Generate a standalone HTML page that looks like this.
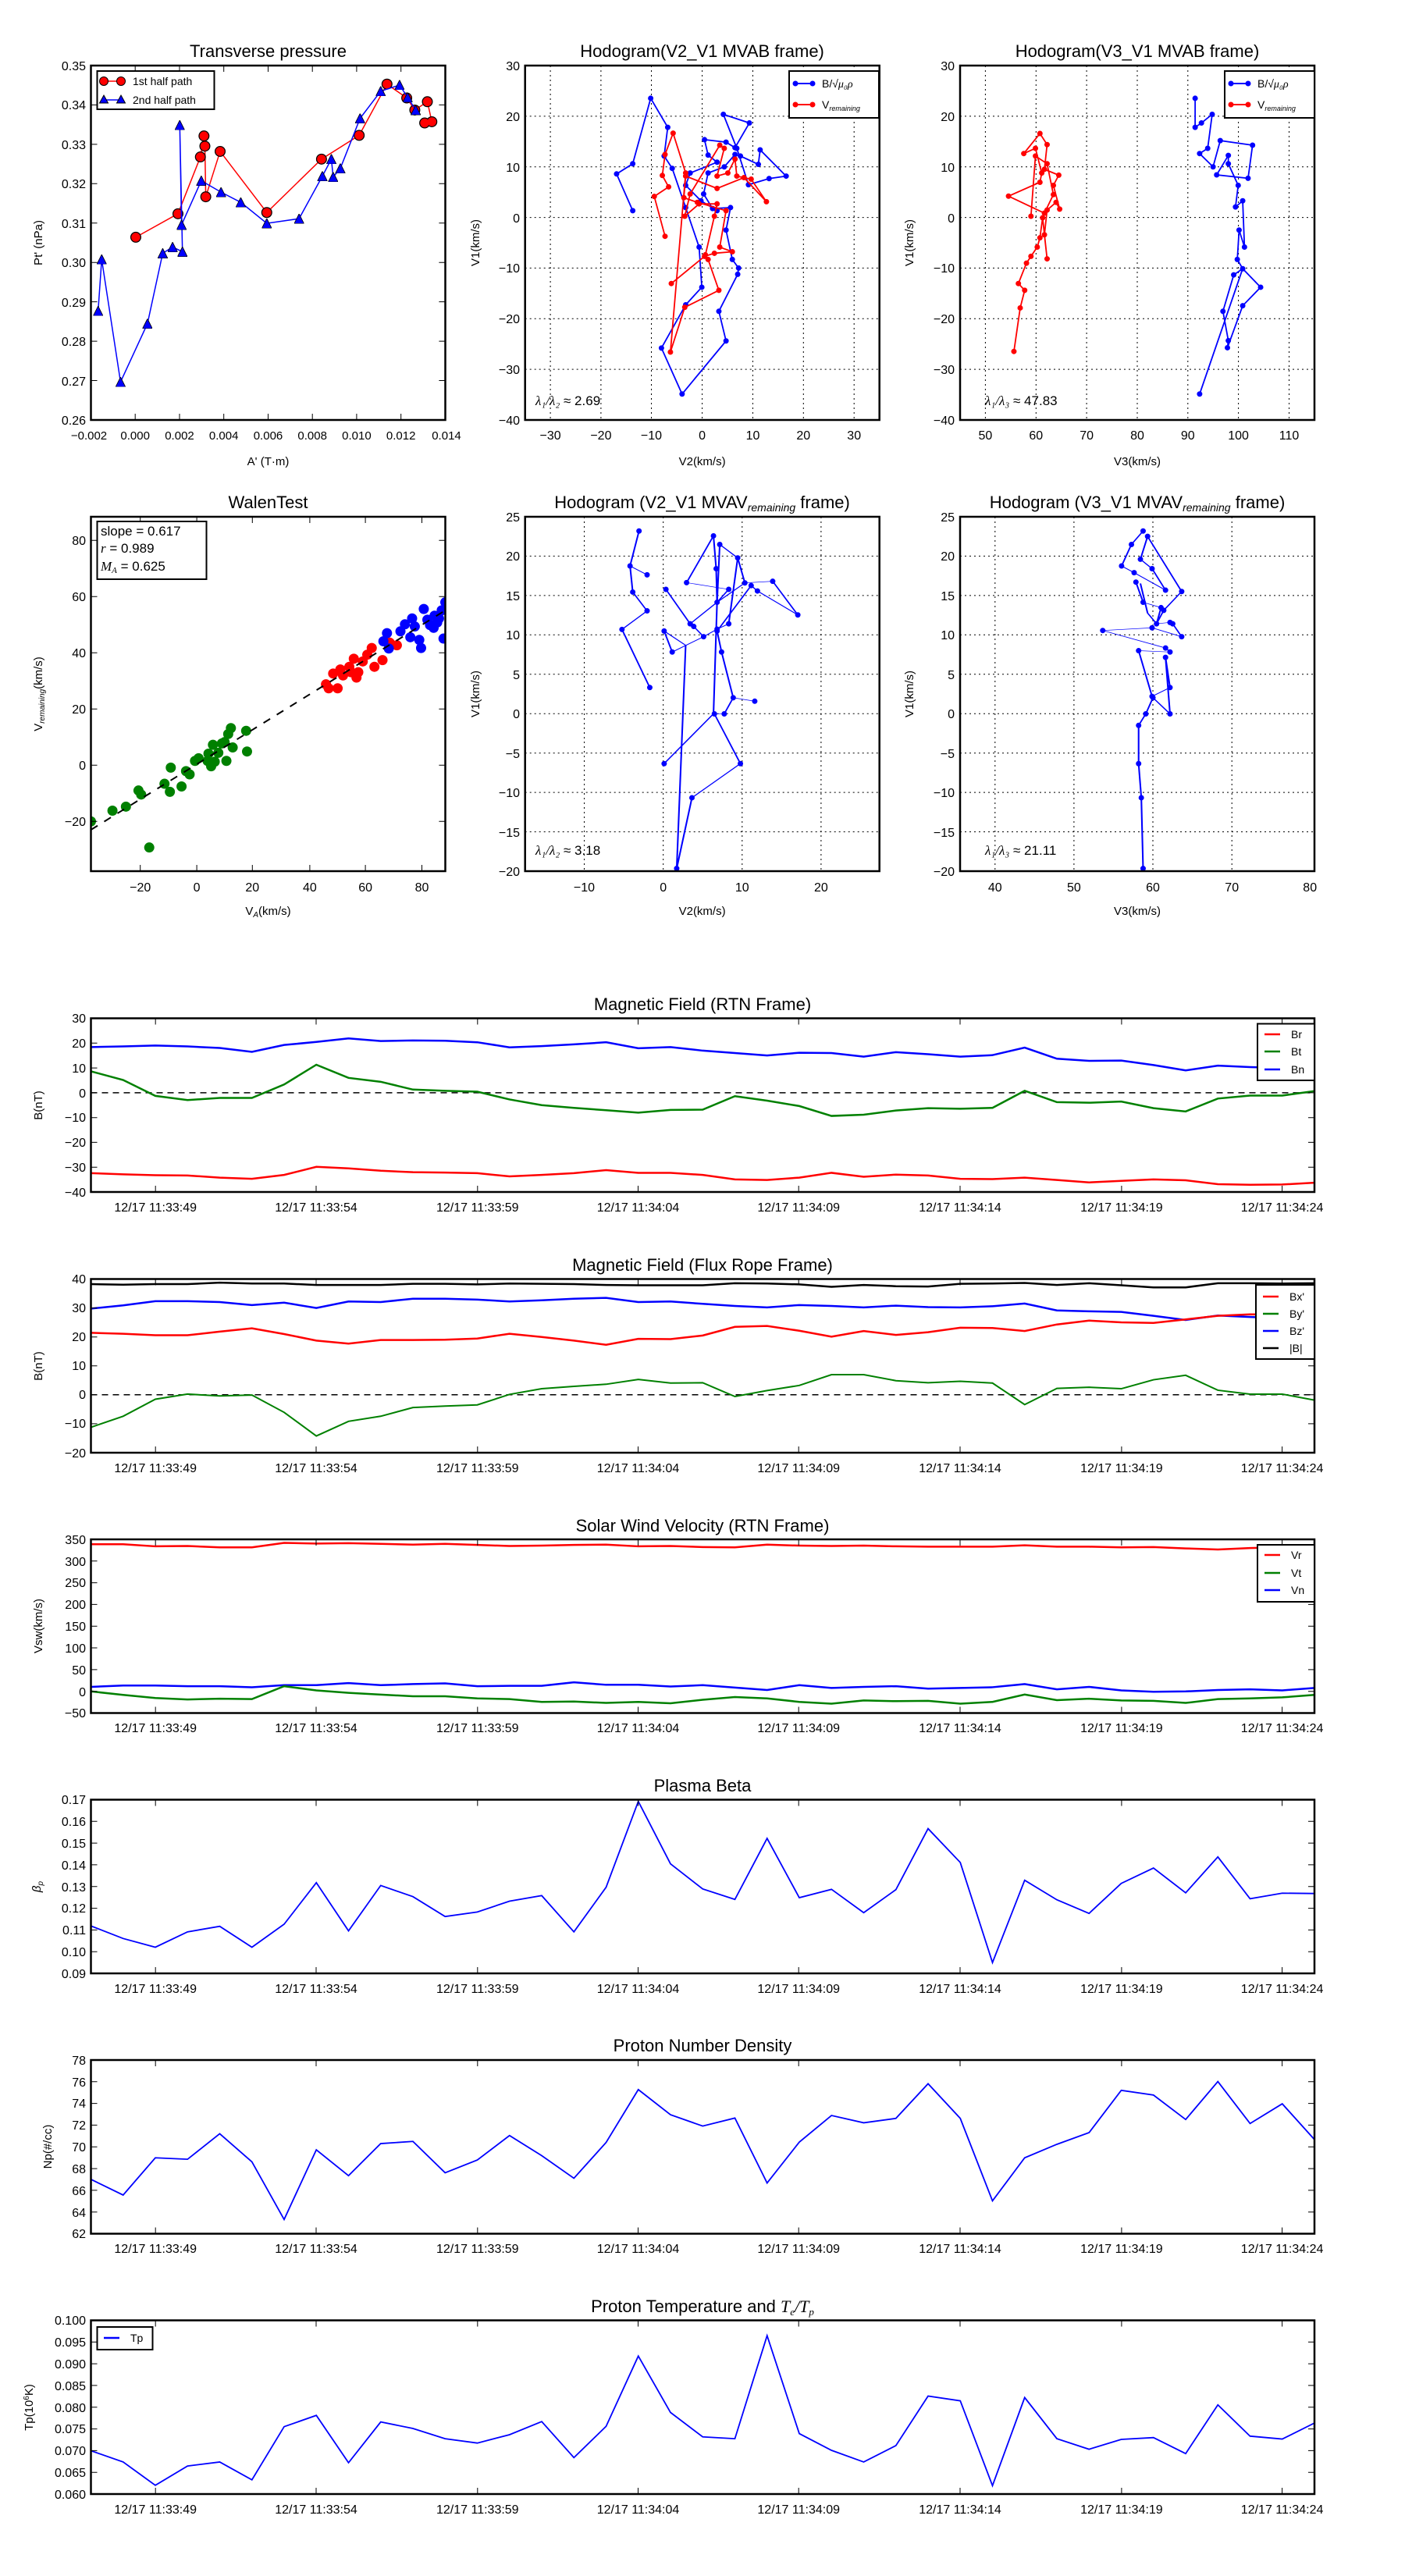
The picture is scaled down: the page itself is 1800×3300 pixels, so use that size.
<!DOCTYPE html>
<html><head><meta charset="utf-8"><style>
html,body{margin:0;padding:0;background:#fff}
svg{display:block}
text{font-family:"Liberation Sans",sans-serif;fill:#000}
.t{font-size:16px}
.ti{font-size:22px;text-anchor:middle}
.al{font-size:15px;text-anchor:middle}
.lg{font-size:14px}
.d{vector-effect:non-scaling-stroke;fill:none}
.sp{fill:none;stroke:#000;stroke-width:2.5}
.tk{fill:none;stroke:#000;stroke-width:1}
.gr{fill:none;stroke:#000;stroke-width:1;stroke-dasharray:2,4}
</style></head><body>
<svg width="1800" height="3300" viewBox="0 0 1800 3300" xmlns="http://www.w3.org/2000/svg">
<defs>
<marker id="tri" markerUnits="userSpaceOnUse" markerWidth="11" markerHeight="32" viewBox="0 0 12 12" refX="6" refY="6" preserveAspectRatio="none"><path d="M6 0L12 12H0Z" fill="#00f" stroke="#000" stroke-width="0.8"/></marker>
</defs>

<!-- ================= ROW 1 ================= -->
<!-- Panel 1: Transverse pressure -->
<text class="ti" x="343.5" y="73">Transverse pressure</text>
<svg x="116.5" y="84" width="454" height="454" viewBox="102 212 395 1148" preserveAspectRatio="none">
<polyline class="d" stroke="#f00" stroke-width="1.5" points="152,768 199,692 224,508 228,440 229,473 230,637 246,490 298,688 359,515 401,438 432,272 454,317 463,356 477,329 482,394 474,398"/>
<path class="d" stroke="#000" stroke-width="14" stroke-linecap="round" d="M152 768h0M199 692h0M224 508h0M228 440h0M229 473h0M230 637h0M246 490h0M298 688h0M359 515h0M401 438h0M432 272h0M454 317h0M463 356h0M477 329h0M482 394h0M474 398h0"/>
<path class="d" stroke="#f00" stroke-width="11.5" stroke-linecap="round" d="M152 768h0M199 692h0M224 508h0M228 440h0M229 473h0M230 637h0M246 490h0M298 688h0M359 515h0M401 438h0M432 272h0M454 317h0M463 356h0M477 329h0M482 394h0M474 398h0"/>
<polyline class="d" stroke="#00f" stroke-width="1.5" marker-start="url(#tri)" marker-mid="url(#tri)" marker-end="url(#tri)" points="110,1007 114,840 135,1237 165,1048 182,820 193,800 204,815 201,405 203,728 225,585 247,622 269,655 298,723 334,708 360,570 370,515 372,573 380,545 402,383 425,295 446,275 455,315 464,356"/>
</svg>
<rect class="sp" x="116.5" y="84" width="454" height="454"/>
<path class="tk" d="M173.2 538v-8M230 538v-8M286.7 538v-8M343.5 538v-8M400.2 538v-8M456.9 538v-8M513.7 538v-8M173.2 84v8M230 84v8M286.7 84v8M343.5 84v8M400.2 84v8M456.9 84v8M513.7 84v8M116.5 134.4h8M116.5 184.9h8M116.5 235.3h8M116.5 285.8h8M116.5 336.2h8M116.5 386.6h8M116.5 437.1h8M116.5 487.5h8M570.4 134.4h-8M570.4 184.9h-8M570.4 235.3h-8M570.4 285.8h-8M570.4 336.2h-8M570.4 386.6h-8M570.4 437.1h-8M570.4 487.5h-8"/>
<g class="t" text-anchor="end">
<text x="110" y="90">0.35</text><text x="110" y="140">0.34</text><text x="110" y="191">0.33</text><text x="110" y="241">0.32</text><text x="110" y="292">0.31</text><text x="110" y="342">0.30</text><text x="110" y="393">0.29</text><text x="110" y="443">0.28</text><text x="110" y="494">0.27</text><text x="110" y="544">0.26</text>
</g>
<g class="t" text-anchor="middle" style="font-size:15px">
<text x="114" y="563">−0.002</text><text x="173.2" y="563">0.000</text><text x="230" y="563">0.002</text><text x="286.7" y="563">0.004</text><text x="343.5" y="563">0.006</text><text x="400.2" y="563">0.008</text><text x="456.9" y="563">0.010</text><text x="513.7" y="563">0.012</text><text x="572" y="563">0.014</text>
</g>
<text class="al" x="343.5" y="596">A' (T·m)</text>
<text class="al" transform="translate(54 311) rotate(-90)">Pt' (nPa)</text>
<rect x="124.5" y="91" width="150" height="49" fill="#fff" stroke="#000" stroke-width="2"/>
<line x1="130" y1="104" x2="158" y2="104" stroke="#f00" stroke-width="1.5"/>
<circle cx="133" cy="104" r="5.5" fill="#f00" stroke="#000"/><circle cx="155" cy="104" r="5.5" fill="#f00" stroke="#000"/>
<line x1="130" y1="128" x2="158" y2="128" stroke="#00f" stroke-width="1.5"/>
<path d="M133 122l5.5 10h-11zM155 122l5.5 10h-11z" fill="#00f" stroke="#000"/>
<text class="lg" x="170" y="109">1st half path</text><text class="lg" x="170" y="133">2nd half path</text>

<!-- Panel 2: Hodogram V2_V1 MVAB -->
<text class="ti" x="899.6" y="73">Hodogram(V2_V1 MVAB frame)</text>
<path class="gr" d="M705.1 84V538M769.9 84V538M834.5 84V538M899.6 84V538M964.5 84V538M1029.3 84V538M1094.2 84V538M672.7 148.9H1126.6M672.7 213.7H1126.6M672.7 278.6H1126.6M672.7 343.4H1126.6M672.7 408.3H1126.6M672.7 473.1H1126.6"/>
<svg x="672.7" y="84" width="454" height="454" viewBox="586 212 395 1148" preserveAspectRatio="none">
<polyline class="d" stroke="#00f" stroke-width="1.8" points="706,682 688,563 706,530 726,318 745,412 741,505 750,545 765,672 780,800 783,930 765,987 738,1127 761,1276 810,1104 802,1008 823,888 824,868 817,840 810,745 815,672 795,675 785,628 790,560 808,540 820,500 826,505 846,532 848,485 877,570 858,578 835,598 822,480 807,370 836,398 820,478 810,460 786,452 790,502 800,525 770,560 765,600 782,650 800,682"/>
<path class="d" stroke="#00f" stroke-width="7" stroke-linecap="round" d="M706 682h0M688 563h0M706 530h0M726 318h0M745 412h0M741 505h0M750 545h0M765 672h0M780 800h0M783 930h0M765 987h0M738 1127h0M761 1276h0M810 1104h0M802 1008h0M823 888h0M824 868h0M817 840h0M810 745h0M815 672h0M795 675h0M785 628h0M790 560h0M808 540h0M820 500h0M826 505h0M846 532h0M848 485h0M877 570h0M858 578h0M835 598h0M822 480h0M807 370h0M836 398h0M820 478h0M810 460h0M786 452h0M790 502h0M800 525h0M770 560h0M765 600h0M782 650h0M800 682h0"/>
<polyline class="d" stroke="#f00" stroke-width="1.8" points="742,765 730,636 746,605 739,568 742,500 751,431 765,560 748,1140 764,995 802,940 790,840 787,825 797,700 800,660 780,660 764,700 770,628 803,470 808,480 800,570 812,560 820,515 822,570 838,580 855,653 830,575 800,610 765,570 763,640 778,655 810,682 803,800 817,815 797,820 786,830 749,918"/>
<path class="d" stroke="#f00" stroke-width="7" stroke-linecap="round" d="M742 765h0M730 636h0M746 605h0M739 568h0M742 500h0M751 431h0M765 560h0M748 1140h0M764 995h0M802 940h0M790 840h0M787 825h0M797 700h0M800 660h0M780 660h0M764 700h0M770 628h0M803 470h0M808 480h0M800 570h0M812 560h0M820 515h0M822 570h0M838 580h0M855 653h0M830 575h0M800 610h0M765 570h0M763 640h0M778 655h0M810 682h0M803 800h0M817 815h0M797 820h0M786 830h0M749 918h0"/>
</svg>
<rect class="sp" x="672.7" y="84" width="454" height="454"/>
<g class="t" text-anchor="end">
<text x="666" y="90">30</text><text x="666" y="155">20</text><text x="666" y="220">10</text><text x="666" y="285">0</text><text x="666" y="349">−10</text><text x="666" y="414">−20</text><text x="666" y="479">−30</text><text x="666" y="544">−40</text>
</g>
<g class="t" text-anchor="middle">
<text x="705.1" y="563">−30</text><text x="769.9" y="563">−20</text><text x="834.5" y="563">−10</text><text x="899.6" y="563">0</text><text x="964.5" y="563">10</text><text x="1029.3" y="563">20</text><text x="1094.2" y="563">30</text>
</g>
<text class="al" x="899.6" y="596">V2(km/s)</text>
<text class="al" transform="translate(614 311) rotate(-90)">V1(km/s)</text>
<text x="686" y="519" style="font-size:17px"><tspan font-style="italic" font-family="Liberation Serif">λ₁/λ₂</tspan> ≈ 2.69</text>
<rect x="1011" y="91" width="115" height="60" fill="#fff" stroke="#000" stroke-width="2"/>
<line x1="1017" y1="107" x2="1043" y2="107" stroke="#00f" stroke-width="2"/><circle cx="1019" cy="107" r="3.5" fill="#00f"/><circle cx="1041" cy="107" r="3.5" fill="#00f"/>
<line x1="1017" y1="134" x2="1043" y2="134" stroke="#f00" stroke-width="2"/><circle cx="1019" cy="134" r="3.5" fill="#f00"/><circle cx="1041" cy="134" r="3.5" fill="#f00"/>
<text class="lg" x="1053" y="112">B/√<tspan font-style="italic" font-family="Liberation Serif">μ₀ρ</tspan></text>
<text class="lg" x="1053" y="139">V<tspan font-size="9" font-style="italic" dy="3">remaining</tspan></text>

<!-- Panel 3: Hodogram V3_V1 MVAB -->
<text class="ti" x="1457" y="73">Hodogram(V3_V1 MVAB frame)</text>
<path class="gr" d="M1262.4 84V538M1327.3 84V538M1392.1 84V538M1457 84V538M1521.8 84V538M1586.6 84V538M1651.5 84V538M1230 148.9H1684M1230 213.7H1684M1230 278.6H1684M1230 343.4H1684M1230 408.3H1684M1230 473.1H1684"/>
<svg x="1230" y="84" width="454" height="454" viewBox="1071 212 395 1148" preserveAspectRatio="none">
<polyline class="d" stroke="#00f" stroke-width="1.8" points="1333,318 1333,412 1340,398 1352,370 1347,480 1338,497 1353,540 1361,455 1397,470 1392,577 1357,566 1370,503 1370,530 1381,600 1378,670 1386,650 1388,800 1382,745 1380,840 1386,870 1376,890 1364,1008 1370,1103 1369,1126 1386,990 1406,930 1386,870 1338,1276"/>
<path class="d" stroke="#00f" stroke-width="7" stroke-linecap="round" d="M1333 318h0M1333 412h0M1340 398h0M1352 370h0M1347 480h0M1338 497h0M1353 540h0M1361 455h0M1397 470h0M1392 577h0M1357 566h0M1370 503h0M1370 530h0M1381 600h0M1378 670h0M1386 650h0M1388 800h0M1382 745h0M1380 840h0M1386 870h0M1376 890h0M1364 1008h0M1370 1103h0M1369 1126h0M1386 990h0M1406 930h0M1338 1276h0"/>
<polyline class="d" stroke="#f00" stroke-width="1.8" points="1131,1138 1138,997 1143,940 1136,918 1145,852 1150,830 1157,800 1160,770 1163,705 1168,838 1165,760 1168,680 1178,655 1182,677 1175,600 1181,567 1165,548 1168,468 1160,432 1142,497 1155,480 1162,560 1160,590 1125,635 1165,690 1175,630 1168,530 1155,505 1150,700"/>
<path class="d" stroke="#f00" stroke-width="7" stroke-linecap="round" d="M1131 1138h0M1138 997h0M1143 940h0M1136 918h0M1145 852h0M1150 830h0M1157 800h0M1160 770h0M1163 705h0M1168 838h0M1165 760h0M1168 680h0M1178 655h0M1182 677h0M1175 600h0M1181 567h0M1165 548h0M1168 468h0M1160 432h0M1142 497h0M1155 480h0M1162 560h0M1160 590h0M1125 635h0M1165 690h0M1175 630h0M1168 530h0M1155 505h0M1150 700h0"/>
</svg>
<rect class="sp" x="1230" y="84" width="454" height="454"/>
<g class="t" text-anchor="end">
<text x="1223" y="90">30</text><text x="1223" y="155">20</text><text x="1223" y="220">10</text><text x="1223" y="285">0</text><text x="1223" y="349">−10</text><text x="1223" y="414">−20</text><text x="1223" y="479">−30</text><text x="1223" y="544">−40</text>
</g>
<g class="t" text-anchor="middle">
<text x="1262.4" y="563">50</text><text x="1327.3" y="563">60</text><text x="1392.1" y="563">70</text><text x="1457" y="563">80</text><text x="1521.8" y="563">90</text><text x="1586.6" y="563">100</text><text x="1651.5" y="563">110</text>
</g>
<text class="al" x="1457" y="596">V3(km/s)</text>
<text class="al" transform="translate(1170 311) rotate(-90)">V1(km/s)</text>
<text x="1262" y="519" style="font-size:17px"><tspan font-style="italic" font-family="Liberation Serif">λ₁/λ₃</tspan> ≈ 47.83</text>
<rect x="1569" y="91" width="115" height="60" fill="#fff" stroke="#000" stroke-width="2"/>
<line x1="1575" y1="107" x2="1601" y2="107" stroke="#00f" stroke-width="2"/><circle cx="1577" cy="107" r="3.5" fill="#00f"/><circle cx="1599" cy="107" r="3.5" fill="#00f"/>
<line x1="1575" y1="134" x2="1601" y2="134" stroke="#f00" stroke-width="2"/><circle cx="1577" cy="134" r="3.5" fill="#f00"/><circle cx="1599" cy="134" r="3.5" fill="#f00"/>
<text class="lg" x="1611" y="112">B/√<tspan font-style="italic" font-family="Liberation Serif">μ₀ρ</tspan></text>
<text class="lg" x="1611" y="139">V<tspan font-size="9" font-style="italic" dy="3">remaining</tspan></text>

<!-- ================= ROW 2 ================= -->
<!-- Walen -->
<text class="ti" x="343.5" y="651">WalenTest</text>
<svg x="116.5" y="662" width="454" height="454" viewBox="102 122 395 1318" preserveAspectRatio="none">
<path class="d" stroke="#008000" stroke-width="13" stroke-linecap="round" d="M102 1255h0M126 1215h0M141 1200h0M155 1140h0M158 1155h0M167 1352h0M184 1115h0M190 1145h0M191 1055h0M203 1125h0M208 1068h0M212 1080h0M218 1030h0M222 1020h0M232 1030h0M233 1003h0M238 970h0M240 1033h0M244 1000h0M248 965h0M251 960h0M253 1030h0M255 930h0M258 908h0M260 980h0M275 918h0M276 995h0M236 1050h0"/>
<path class="d" stroke="#f00" stroke-width="13" stroke-linecap="round" d="M364 745h0M367 760h0M377 760h0M372 705h0M380 690h0M383 712h0M390 680h0M395 650h0M398 720h0M405 660h0M410 635h0M415 610h0M418 680h0M427 655h0M435 590h0M443 600h0M392 700h0M400 700h0"/>
<path class="d" stroke="#00f" stroke-width="13" stroke-linecap="round" d="M428 585h0M432 555h0M434 612h0M447 548h0M452 522h0M458 570h0M463 530h0M468 580h0M470 610h0M473 465h0M477 505h0M480 525h0M484 535h0M488 515h0M490 500h0M493 470h0M495 575h0M497 440h0M460 500h0M485 490h0"/>
</svg>
<line x1="116.5" y1="1063" x2="570.4" y2="782" stroke="#000" stroke-width="2" stroke-dasharray="10,10"/>
<rect class="sp" x="116.5" y="662" width="454" height="454"/>
<path class="tk" d="M179.7 1116v-8M252.1 1116v-8M323.3 1116v-8M396.9 1116v-8M468.1 1116v-8M540.5 1116v-8M179.7 662v8M252.1 662v8M323.3 662v8M396.9 662v8M468.1 662v8M540.5 662v8M116.5 692.3h8M116.5 764.3h8M116.5 836.2h8M116.5 908.2h8M116.5 980.2h8M116.5 1052.2h8M570.4 692.3h-8M570.4 764.3h-8M570.4 836.2h-8M570.4 908.2h-8M570.4 980.2h-8M570.4 1052.2h-8"/>
<g class="t" text-anchor="end">
<text x="110" y="698">80</text><text x="110" y="770">60</text><text x="110" y="842">40</text><text x="110" y="914">20</text><text x="110" y="986">0</text><text x="110" y="1058">−20</text>
</g>
<g class="t" text-anchor="middle">
<text x="179.7" y="1142">−20</text><text x="252.1" y="1142">0</text><text x="323.3" y="1142">20</text><text x="396.9" y="1142">40</text><text x="468.1" y="1142">60</text><text x="540.5" y="1142">80</text>
</g>
<text class="al" x="343.5" y="1172">V<tspan font-size="10" font-style="italic" dy="3">A</tspan><tspan dy="-3">(km/s)</tspan></text>
<text class="al" transform="translate(54 889) rotate(-90)">V<tspan font-size="10" font-style="italic" dy="3">remaining</tspan><tspan dy="-3">(km/s)</tspan></text>
<rect x="124.5" y="668" width="140" height="74" fill="#fff" stroke="#000" stroke-width="2"/>
<text x="129" y="686" style="font-size:17px">slope = 0.617</text>
<text x="129" y="708" style="font-size:17px"><tspan font-style="italic" font-family="Liberation Serif">r</tspan> = 0.989</text>
<text x="129" y="731" style="font-size:17px"><tspan font-style="italic" font-family="Liberation Serif">M<tspan font-size="11" dy="3">A</tspan></tspan><tspan dy="-3"> = 0.625</tspan></text>

<!-- Row2 hodogram V2_V1 MVAV -->
<text class="ti" x="899.6" y="651">Hodogram (V2_V1 MVAV<tspan font-size="14" font-style="italic" dy="4">remaining</tspan><tspan dy="-4"> frame)</tspan></text>
<path class="gr" d="M748.5 662V1116M849.7 662V1116M950.8 662V1116M1051.9 662V1116M672.7 712.4H1126.6M672.7 762.9H1126.6M672.7 813.3H1126.6M672.7 863.8H1126.6M672.7 914.2H1126.6M672.7 964.7H1126.6M672.7 1015.1H1126.6M672.7 1065.6H1126.6"/>
<svg x="672.7" y="662" width="454" height="454" viewBox="586 122 395 1318" preserveAspectRatio="none">
<g class="d" stroke="#00f" stroke-width="1.8">
<polyline points="722,338 703,305 713,175 703,305 706,402 722,472 694,541 725,757"/>
<polyline points="741,547 750,625 785,568 800,540 813,520 823,275 803,225 800,440 799,315 796,193 766,367 813,392 800,440 770,520 743,392 770,520 774,530 785,568"/>
<polyline points="831,368 862,362 890,487 845,398 838,378 800,547 805,625 818,795 842,808 818,795 808,855 797,855 826,1040 772,1167 755,1430 765,600 741,547"/>
<polyline points="741,1040 796,855 800,440 831,368 823,275"/>
</g>
<path class="d" stroke="#00f" stroke-width="7" stroke-linecap="round" d="M722 338h0M703 305h0M713 175h0M706 402h0M722 472h0M694 541h0M725 757h0M741 547h0M750 625h0M785 568h0M800 540h0M813 520h0M823 275h0M803 225h0M800 440h0M799 315h0M796 193h0M766 367h0M813 392h0M770 520h0M743 392h0M774 530h0M831 368h0M862 362h0M890 487h0M845 398h0M838 378h0M800 547h0M805 625h0M818 795h0M842 808h0M808 855h0M797 855h0M826 1040h0M772 1167h0M755 1430h0M741 1040h0"/>
</svg>
<rect class="sp" x="672.7" y="662" width="454" height="454"/>
<g class="t" text-anchor="end">
<text x="666" y="668">25</text><text x="666" y="718">20</text><text x="666" y="769">15</text><text x="666" y="819">10</text><text x="666" y="870">5</text><text x="666" y="920">0</text><text x="666" y="971">−5</text><text x="666" y="1021">−10</text><text x="666" y="1072">−15</text><text x="666" y="1122">−20</text>
</g>
<g class="t" text-anchor="middle">
<text x="748.5" y="1142">−10</text><text x="849.7" y="1142">0</text><text x="950.8" y="1142">10</text><text x="1051.9" y="1142">20</text>
</g>
<text class="al" x="899.6" y="1172">V2(km/s)</text>
<text class="al" transform="translate(614 889) rotate(-90)">V1(km/s)</text>
<text x="686" y="1095" style="font-size:17px"><tspan font-style="italic" font-family="Liberation Serif">λ₁/λ₂</tspan> ≈ 3.18</text>

<!-- Row2 hodogram V3_V1 MVAV -->
<text class="ti" x="1457" y="651">Hodogram (V3_V1 MVAV<tspan font-size="14" font-style="italic" dy="4">remaining</tspan><tspan dy="-4"> frame)</tspan></text>
<path class="gr" d="M1274.8 662V1116M1375.9 662V1116M1477 662V1116M1578.2 662V1116M1230 712.4H1684M1230 762.9H1684M1230 813.3H1684M1230 863.8H1684M1230 914.2H1684M1230 964.7H1684M1230 1015.1H1684M1230 1065.6H1684"/>
<svg x="1230" y="662" width="454" height="454" viewBox="1071 122 395 1318" preserveAspectRatio="none">
<g class="d" stroke="#00f" stroke-width="1.8">
<polyline points="1275,175 1262,225 1251,305 1265,330 1300,395 1285,315 1272,280 1280,195 1318,400 1298,470 1290,520 1305,515 1308,520 1318,568 1285,535 1230,545 1300,610 1305,625 1270,620 1285,790 1305,757 1300,645 1305,855 1286,795 1278,855 1270,898 1270,1040 1273,1167 1275,1430"/>
<polyline points="1267,365 1275,440 1295,460 1290,520 1280,480 1272,370"/>
</g>
<path class="d" stroke="#00f" stroke-width="7" stroke-linecap="round" d="M1275 175h0M1262 225h0M1251 305h0M1265 330h0M1300 395h0M1285 315h0M1272 280h0M1280 195h0M1318 400h0M1298 470h0M1290 520h0M1305 515h0M1308 520h0M1318 568h0M1285 535h0M1230 545h0M1300 610h0M1305 625h0M1270 620h0M1285 790h0M1305 757h0M1300 645h0M1305 855h0M1286 795h0M1278 855h0M1270 898h0M1270 1040h0M1273 1167h0M1275 1430h0M1267 365h0M1275 440h0M1295 460h0"/>
</svg>
<rect class="sp" x="1230" y="662" width="454" height="454"/>
<g class="t" text-anchor="end">
<text x="1223" y="668">25</text><text x="1223" y="718">20</text><text x="1223" y="769">15</text><text x="1223" y="819">10</text><text x="1223" y="870">5</text><text x="1223" y="920">0</text><text x="1223" y="971">−5</text><text x="1223" y="1021">−10</text><text x="1223" y="1072">−15</text><text x="1223" y="1122">−20</text>
</g>
<g class="t" text-anchor="middle">
<text x="1274.8" y="1142">40</text><text x="1375.9" y="1142">50</text><text x="1477" y="1142">60</text><text x="1578.2" y="1142">70</text><text x="1678.2" y="1142">80</text>
</g>
<text class="al" x="1457" y="1172">V3(km/s)</text>
<text class="al" transform="translate(1170 889) rotate(-90)">V1(km/s)</text>
<text x="1262" y="1095" style="font-size:17px"><tspan font-style="italic" font-family="Liberation Serif">λ₁/λ₃</tspan> ≈ 21.11</text>

<!-- ================= TIME SERIES ================= -->
<!-- P1 Magnetic Field RTN: top 1304.5 bottom 1527 -->
<text class="ti" x="900" y="1294">Magnetic Field (RTN Frame)</text>
<line x1="116.5" y1="1399.9" x2="1684" y2="1399.9" stroke="#000" stroke-width="1.5" stroke-dasharray="8,6"/>
<svg x="116.5" y="1304.5" width="1567.5" height="222.5" viewBox="0 91 38 580" preserveAspectRatio="none">
<polyline class="d" stroke="#00f" stroke-width="2.5" points="0,187 1,185 2,182 3,185 4,190 5,203 6,180 7,170 8,158 9,167 10,165 11,166 12,171 13,188 14,184 15,178 16,171 17,191 18,187 19,199 20,207 21,215 22,206 23,207 24,219 25,204 26,211 27,219 28,214 29,189 30,226 31,233 32,232 33,247 34,265 35,249 36,254 37,257 38,235"/>
<polyline class="d" stroke="#008000" stroke-width="2.5" points="0,268 1,297 2,350 3,364 4,357 5,357 6,312 7,246 8,290 9,303 10,329 11,333 12,336 13,362 14,381 15,390 16,398 17,406 18,397 19,396 20,351 21,366 22,384 23,417 24,413 25,399 26,391 27,393 28,390 29,333 30,371 31,373 32,369 33,391 34,402 35,359 36,349 37,349 38,334"/>
<polyline class="d" stroke="#f00" stroke-width="2.5" points="0,608 1,612 2,615 3,616 4,623 5,627 6,614 7,587 8,592 9,600 10,605 11,606 12,608 13,619 14,614 15,608 16,598 17,607 18,607 19,614 20,629 21,631 22,623 23,607 24,620 25,613 26,616 27,627 28,628 29,623 30,631 31,639 32,634 33,629 34,632 35,645 36,647 37,646 38,640"/>
</svg>
<rect class="sp" x="116.5" y="1304.5" width="1567.5" height="222.5"/>
<path class="tk" d="M199.2 1527v-8M405 1527v-8M611.8 1527v-8M817.5 1527v-8M1023.2 1527v-8M1230 1527v-8M1436.9 1527v-8M1642.6 1527v-8M199.2 1304.5v8M405 1304.5v8M611.8 1304.5v8M817.5 1304.5v8M1023.2 1304.5v8M1230 1304.5v8M1436.9 1304.5v8M1642.6 1304.5v8M116.5 1336.3h8M116.5 1368.1h8M116.5 1399.9h8M116.5 1431.7h8M116.5 1463.4h8M116.5 1495.2h8M1684 1336.3h-8M1684 1368.1h-8M1684 1399.9h-8M1684 1431.7h-8M1684 1463.4h-8M1684 1495.2h-8"/>
<g class="t" text-anchor="end">
<text x="110" y="1310">30</text><text x="110" y="1342">20</text><text x="110" y="1374">10</text><text x="110" y="1406">0</text><text x="110" y="1437">−10</text><text x="110" y="1469">−20</text><text x="110" y="1501">−30</text><text x="110" y="1533">−40</text>
</g>
<g class="t" text-anchor="middle">
<text x="199.2" y="1552">12/17 11:33:49</text><text x="405" y="1552">12/17 11:33:54</text><text x="611.8" y="1552">12/17 11:33:59</text><text x="817.5" y="1552">12/17 11:34:04</text><text x="1023.2" y="1552">12/17 11:34:09</text><text x="1230" y="1552">12/17 11:34:14</text><text x="1436.9" y="1552">12/17 11:34:19</text><text x="1642.6" y="1552">12/17 11:34:24</text>
</g>
<text class="al" transform="translate(54 1416) rotate(-90)">B(nT)</text>
<rect x="1611" y="1311.5" width="73" height="72.5" fill="#fff" stroke="#000" stroke-width="2"/>
<path d="M1620 1325h20" stroke="#f00" stroke-width="2.5"/><path d="M1620 1347h20" stroke="#008000" stroke-width="2.5"/><path d="M1620 1370h20" stroke="#00f" stroke-width="2.5"/>
<text class="lg" x="1654" y="1330">Br</text><text class="lg" x="1654" y="1352">Bt</text><text class="lg" x="1654" y="1375">Bn</text>

<!-- P2 Flux rope: top 1638.5 bottom 1861 -->
<text class="ti" x="900" y="1628">Magnetic Field (Flux Rope Frame)</text>
<line x1="116.5" y1="1786.8" x2="1684" y2="1786.8" stroke="#000" stroke-width="1.5" stroke-dasharray="8,6"/>
<svg x="116.5" y="1638.5" width="1567.5" height="222.5" viewBox="0 964 38 581" preserveAspectRatio="none">
<polyline class="d" stroke="#000" stroke-width="2.5" points="0,981 1,983 2,981 3,981 4,976 5,979 6,979 7,984 8,984 9,984 10,980 11,980 12,982 13,979 14,980 15,981 16,984 17,985 18,985 19,985 20,978 21,979 22,982 23,990 24,984 25,988 26,989 27,980 28,979 29,977 30,984 31,978 32,985 33,992 34,992 35,978 36,978 37,979 38,978"/>
<polyline class="d" stroke="#00f" stroke-width="2.5" points="0,1063 1,1052 2,1038 3,1038 4,1041 5,1051 6,1043 7,1061 8,1039 9,1041 10,1030 11,1030 12,1033 13,1039 14,1035 15,1030 16,1027 17,1041 18,1039 19,1047 20,1054 21,1059 22,1051 23,1054 24,1059 25,1053 26,1058 27,1059 28,1055 29,1046 30,1069 31,1072 32,1074 33,1087 34,1101 35,1086 36,1091 37,1095 38,1080"/>
<polyline class="d" stroke="#f00" stroke-width="2.5" points="0,1144 1,1147 2,1152 3,1152 4,1140 5,1129 6,1148 7,1170 8,1180 9,1168 10,1168 11,1167 12,1163 13,1147 14,1158 15,1170 16,1184 17,1164 18,1165 19,1153 20,1124 21,1121 22,1137 23,1157 24,1138 25,1151 26,1142 27,1127 28,1128 29,1138 30,1116 31,1103 32,1109 33,1111 34,1099 35,1087 36,1082 37,1083 38,1096"/>
<polyline class="d" stroke="#008000" stroke-width="2" points="0,1460 1,1423 2,1366 3,1349 4,1355 5,1352 6,1410 7,1489 8,1440 9,1423 10,1394 11,1389 12,1385 13,1350 14,1331 15,1323 16,1316 17,1300 18,1312 19,1311 20,1357 21,1337 22,1320 23,1284 24,1284 25,1304 26,1311 27,1306 28,1312 29,1384 30,1330 31,1326 32,1331 33,1301 34,1286 35,1336 36,1349 37,1349 38,1369"/>
</svg>
<rect class="sp" x="116.5" y="1638.5" width="1567.5" height="222.5"/>
<path class="tk" d="M199.2 1861v-8M405 1861v-8M611.8 1861v-8M817.5 1861v-8M1023.2 1861v-8M1230 1861v-8M1436.9 1861v-8M1642.6 1861v-8M199.2 1638.5v8M405 1638.5v8M611.8 1638.5v8M817.5 1638.5v8M1023.2 1638.5v8M1230 1638.5v8M1436.9 1638.5v8M1642.6 1638.5v8M116.5 1675.6h8M116.5 1712.7h8M116.5 1749.7h8M116.5 1786.8h8M116.5 1823.9h8M1684 1675.6h-8M1684 1712.7h-8M1684 1749.7h-8M1684 1786.8h-8M1684 1823.9h-8"/>
<g class="t" text-anchor="end">
<text x="110" y="1644">40</text><text x="110" y="1681">30</text><text x="110" y="1718">20</text><text x="110" y="1755">10</text><text x="110" y="1792">0</text><text x="110" y="1829">−10</text><text x="110" y="1867">−20</text>
</g>
<g class="t" text-anchor="middle">
<text x="199.2" y="1886">12/17 11:33:49</text><text x="405" y="1886">12/17 11:33:54</text><text x="611.8" y="1886">12/17 11:33:59</text><text x="817.5" y="1886">12/17 11:34:04</text><text x="1023.2" y="1886">12/17 11:34:09</text><text x="1230" y="1886">12/17 11:34:14</text><text x="1436.9" y="1886">12/17 11:34:19</text><text x="1642.6" y="1886">12/17 11:34:24</text>
</g>
<text class="al" transform="translate(54 1750) rotate(-90)">B(nT)</text>
<rect x="1609" y="1646" width="75" height="95" fill="#fff" stroke="#000" stroke-width="2"/>
<path d="M1618 1661h20" stroke="#f00" stroke-width="2.5"/><path d="M1618 1683h20" stroke="#008000" stroke-width="2.5"/><path d="M1618 1705h20" stroke="#00f" stroke-width="2.5"/><path d="M1618 1727h20" stroke="#000" stroke-width="2.5"/>
<text class="lg" x="1652" y="1666">Bx'</text><text class="lg" x="1652" y="1688">By'</text><text class="lg" x="1652" y="1710">Bz'</text><text class="lg" x="1652" y="1732">|B|</text>

<!-- P3 Velocity: top 1972 bottom 2194.5 -->
<text class="ti" x="900" y="1962">Solar Wind Velocity (RTN Frame)</text>
<svg x="116.5" y="1972" width="1567.5" height="222.5" viewBox="0 228 38 498" preserveAspectRatio="none">
<polyline class="d" stroke="#f00" stroke-width="2.5" points="0,242 1,242 2,248 3,247 4,251 5,251 6,238 7,240 8,239 9,241 10,243 11,241 12,244 13,247 14,246 15,244 16,243 17,248 18,247 19,250 20,251 21,243 22,246 23,247 24,246 25,248 26,249 27,249 28,249 29,245 30,249 31,249 32,251 33,250 34,254 35,257 36,253 37,251 38,252"/>
<polyline class="d" stroke="#00f" stroke-width="2.5" points="0,651 1,647 2,647 3,649 4,649 5,652 6,646 7,646 8,640 9,646 10,643 11,641 12,649 13,648 14,648 15,638 16,645 17,645 18,650 19,646 20,653 21,660 22,646 23,654 24,651 25,649 26,656 27,654 28,652 29,643 30,658 31,651 32,661 33,665 34,664 35,660 36,658 37,661 38,654"/>
<polyline class="d" stroke="#008000" stroke-width="2.5" points="0,664 1,674 2,683 3,687 4,685 5,686 6,649 7,661 8,668 9,673 10,678 11,678 12,684 13,686 14,694 15,693 16,697 17,694 18,698 19,688 20,680 21,684 22,694 23,699 24,690 25,692 26,691 27,699 28,694 29,673 30,689 31,685 32,690 33,691 34,697 35,686 36,684 37,681 38,674"/>
</svg>
<rect class="sp" x="116.5" y="1972" width="1567.5" height="222.5"/>
<path class="tk" d="M199.2 2194.5v-8M405 2194.5v-8M611.8 2194.5v-8M817.5 2194.5v-8M1023.2 2194.5v-8M1230 2194.5v-8M1436.9 2194.5v-8M1642.6 2194.5v-8M199.2 1972v8M405 1972v8M611.8 1972v8M817.5 1972v8M1023.2 1972v8M1230 1972v8M1436.9 1972v8M1642.6 1972v8M116.5 1999.8h8M116.5 2027.6h8M116.5 2055.4h8M116.5 2083.2h8M116.5 2111h8M116.5 2138.9h8M116.5 2166.7h8M1684 1999.8h-8M1684 2027.6h-8M1684 2055.4h-8M1684 2083.2h-8M1684 2111h-8M1684 2138.9h-8M1684 2166.7h-8"/>
<g class="t" text-anchor="end">
<text x="110" y="1978">350</text><text x="110" y="2006">300</text><text x="110" y="2033">250</text><text x="110" y="2061">200</text><text x="110" y="2089">150</text><text x="110" y="2117">100</text><text x="110" y="2145">50</text><text x="110" y="2173">0</text><text x="110" y="2200">−50</text>
</g>
<g class="t" text-anchor="middle">
<text x="199.2" y="2219">12/17 11:33:49</text><text x="405" y="2219">12/17 11:33:54</text><text x="611.8" y="2219">12/17 11:33:59</text><text x="817.5" y="2219">12/17 11:34:04</text><text x="1023.2" y="2219">12/17 11:34:09</text><text x="1230" y="2219">12/17 11:34:14</text><text x="1436.9" y="2219">12/17 11:34:19</text><text x="1642.6" y="2219">12/17 11:34:24</text>
</g>
<text class="al" transform="translate(54 2083) rotate(-90)">Vsw(km/s)</text>
<rect x="1611" y="1979" width="73" height="73" fill="#fff" stroke="#000" stroke-width="2"/>
<path d="M1620 1992h20" stroke="#f00" stroke-width="2.5"/><path d="M1620 2015h20" stroke="#008000" stroke-width="2.5"/><path d="M1620 2037h20" stroke="#00f" stroke-width="2.5"/>
<text class="lg" x="1654" y="1997">Vr</text><text class="lg" x="1654" y="2020">Vt</text><text class="lg" x="1654" y="2042">Vn</text>

<!-- P4 Plasma beta: top 2305.5 bottom 2528 -->
<text class="ti" x="900" y="2295">Plasma Beta</text>
<svg x="116.5" y="2305.5" width="1567.5" height="222.5" viewBox="0 975 38 498" preserveAspectRatio="none">
<polyline class="d" stroke="#00f" stroke-width="1.8" points="0,1337 1,1373 2,1398 3,1354 4,1338 5,1398 6,1332 7,1213 8,1351 9,1221 10,1253 11,1310 12,1297 13,1266 14,1250 15,1354 16,1226 17,980 18,1159 19,1231 20,1261 21,1086 22,1256 23,1232 24,1299 25,1233 26,1058 27,1155 28,1442 29,1206 30,1262 31,1301 32,1215 33,1171 34,1242 35,1139 36,1259 37,1243 38,1244"/>
</svg>
<rect class="sp" x="116.5" y="2305.5" width="1567.5" height="222.5"/>
<path class="tk" d="M199.2 2528v-8M405 2528v-8M611.8 2528v-8M817.5 2528v-8M1023.2 2528v-8M1230 2528v-8M1436.9 2528v-8M1642.6 2528v-8M199.2 2305.5v8M405 2305.5v8M611.8 2305.5v8M817.5 2305.5v8M1023.2 2305.5v8M1230 2305.5v8M1436.9 2305.5v8M1642.6 2305.5v8M116.5 2333.3h8M116.5 2361.1h8M116.5 2388.9h8M116.5 2416.8h8M116.5 2444.6h8M116.5 2472.4h8M116.5 2500.2h8M1684 2333.3h-8M1684 2361.1h-8M1684 2388.9h-8M1684 2416.8h-8M1684 2444.6h-8M1684 2472.4h-8M1684 2500.2h-8"/>
<g class="t" text-anchor="end">
<text x="110" y="2311">0.17</text><text x="110" y="2339">0.16</text><text x="110" y="2367">0.15</text><text x="110" y="2395">0.14</text><text x="110" y="2423">0.13</text><text x="110" y="2450">0.12</text><text x="110" y="2478">0.11</text><text x="110" y="2506">0.10</text><text x="110" y="2534">0.09</text>
</g>
<g class="t" text-anchor="middle">
<text x="199.2" y="2553">12/17 11:33:49</text><text x="405" y="2553">12/17 11:33:54</text><text x="611.8" y="2553">12/17 11:33:59</text><text x="817.5" y="2553">12/17 11:34:04</text><text x="1023.2" y="2553">12/17 11:34:09</text><text x="1230" y="2553">12/17 11:34:14</text><text x="1436.9" y="2553">12/17 11:34:19</text><text x="1642.6" y="2553">12/17 11:34:24</text>
</g>
<text class="al" transform="translate(52 2417) rotate(-90)" font-family="Liberation Serif" font-style="italic">β<tspan font-size="10" dy="3">p</tspan></text>

<!-- P5 Np: top 2639 bottom 2861.5 -->
<text class="ti" x="900" y="2628">Proton Number Density</text>
<svg x="116.5" y="2639" width="1567.5" height="222.5" viewBox="0 148 38 476" preserveAspectRatio="none">
<polyline class="d" stroke="#00f" stroke-width="1.8" points="0,475 1,518 2,416 3,420 4,350 5,427 6,585 7,394 8,465 9,377 10,371 11,457 12,422 13,355 14,410 15,472 16,374 17,229 18,298 19,329 20,307 21,485 22,373 23,300 24,320 25,308 26,213 27,308 28,534 29,416 30,379 31,347 32,231 33,244 34,311 35,207 36,322 37,268 38,366"/>
</svg>
<rect class="sp" x="116.5" y="2639" width="1567.5" height="222.5"/>
<path class="tk" d="M199.2 2861.5v-8M405 2861.5v-8M611.8 2861.5v-8M817.5 2861.5v-8M1023.2 2861.5v-8M1230 2861.5v-8M1436.9 2861.5v-8M1642.6 2861.5v-8M199.2 2639v8M405 2639v8M611.8 2639v8M817.5 2639v8M1023.2 2639v8M1230 2639v8M1436.9 2639v8M1642.6 2639v8M116.5 2666.8h8M116.5 2694.6h8M116.5 2722.4h8M116.5 2750.3h8M116.5 2778.1h8M116.5 2805.9h8M116.5 2833.7h8M1684 2666.8h-8M1684 2694.6h-8M1684 2722.4h-8M1684 2750.3h-8M1684 2778.1h-8M1684 2805.9h-8M1684 2833.7h-8"/>
<g class="t" text-anchor="end">
<text x="110" y="2645">78</text><text x="110" y="2673">76</text><text x="110" y="2700">74</text><text x="110" y="2728">72</text><text x="110" y="2756">70</text><text x="110" y="2784">68</text><text x="110" y="2812">66</text><text x="110" y="2840">64</text><text x="110" y="2867">62</text>
</g>
<g class="t" text-anchor="middle">
<text x="199.2" y="2886">12/17 11:33:49</text><text x="405" y="2886">12/17 11:33:54</text><text x="611.8" y="2886">12/17 11:33:59</text><text x="817.5" y="2886">12/17 11:34:04</text><text x="1023.2" y="2886">12/17 11:34:09</text><text x="1230" y="2886">12/17 11:34:14</text><text x="1436.9" y="2886">12/17 11:34:19</text><text x="1642.6" y="2886">12/17 11:34:24</text>
</g>
<text class="al" transform="translate(66 2750) rotate(-90)">Np(#/cc)</text>

<!-- P6 Tp: top 2972.5 bottom 3195 -->
<text class="ti" x="900" y="2962">Proton Temperature and <tspan font-family="Liberation Serif" font-style="italic">T<tspan font-size="13" dy="4">e</tspan><tspan dy="-4">/T</tspan><tspan font-size="13" dy="4">p</tspan></tspan></text>
<svg x="116.5" y="2972.5" width="1567.5" height="222.5" viewBox="0 864 38 477" preserveAspectRatio="none">
<polyline class="d" stroke="#00f" stroke-width="1.8" points="0,1222 1,1253 2,1317 3,1264 4,1253 5,1302 6,1156 7,1125 8,1255 9,1143 10,1161 11,1189 12,1201 13,1178 14,1142 15,1241 16,1155 17,962 18,1117 19,1184 20,1189 21,906 22,1175 23,1221 24,1253 25,1208 26,1072 27,1085 28,1318 29,1076 30,1189 31,1218 32,1191 33,1186 34,1230 35,1096 36,1182 37,1190 38,1146"/>
</svg>
<rect class="sp" x="116.5" y="2972.5" width="1567.5" height="222.5"/>
<path class="tk" d="M199.2 3195v-8M405 3195v-8M611.8 3195v-8M817.5 3195v-8M1023.2 3195v-8M1230 3195v-8M1436.9 3195v-8M1642.6 3195v-8M199.2 2972.5v8M405 2972.5v8M611.8 2972.5v8M817.5 2972.5v8M1023.2 2972.5v8M1230 2972.5v8M1436.9 2972.5v8M1642.6 2972.5v8M116.5 3000.3h8M116.5 3028.1h8M116.5 3055.9h8M116.5 3083.8h8M116.5 3111.6h8M116.5 3139.4h8M116.5 3167.2h8M1684 3000.3h-8M1684 3028.1h-8M1684 3055.9h-8M1684 3083.8h-8M1684 3111.6h-8M1684 3139.4h-8M1684 3167.2h-8"/>
<g class="t" text-anchor="end">
<text x="110" y="2978">0.100</text><text x="110" y="3006">0.095</text><text x="110" y="3034">0.090</text><text x="110" y="3062">0.085</text><text x="110" y="3090">0.080</text><text x="110" y="3117">0.075</text><text x="110" y="3145">0.070</text><text x="110" y="3173">0.065</text><text x="110" y="3201">0.060</text>
</g>
<g class="t" text-anchor="middle">
<text x="199.2" y="3220">12/17 11:33:49</text><text x="405" y="3220">12/17 11:33:54</text><text x="611.8" y="3220">12/17 11:33:59</text><text x="817.5" y="3220">12/17 11:34:04</text><text x="1023.2" y="3220">12/17 11:34:09</text><text x="1230" y="3220">12/17 11:34:14</text><text x="1436.9" y="3220">12/17 11:34:19</text><text x="1642.6" y="3220">12/17 11:34:24</text>
</g>
<text class="al" transform="translate(42 3084) rotate(-90)">Tp(10<tspan font-size="10" dy="-5">6</tspan><tspan dy="5">K)</tspan></text>
<rect x="124.5" y="2981" width="71" height="29" fill="#fff" stroke="#000" stroke-width="2"/>
<path d="M133 2995h20" stroke="#00f" stroke-width="2.5"/>
<text class="lg" x="167" y="3000">Tp</text>
</svg>
</body></html>
